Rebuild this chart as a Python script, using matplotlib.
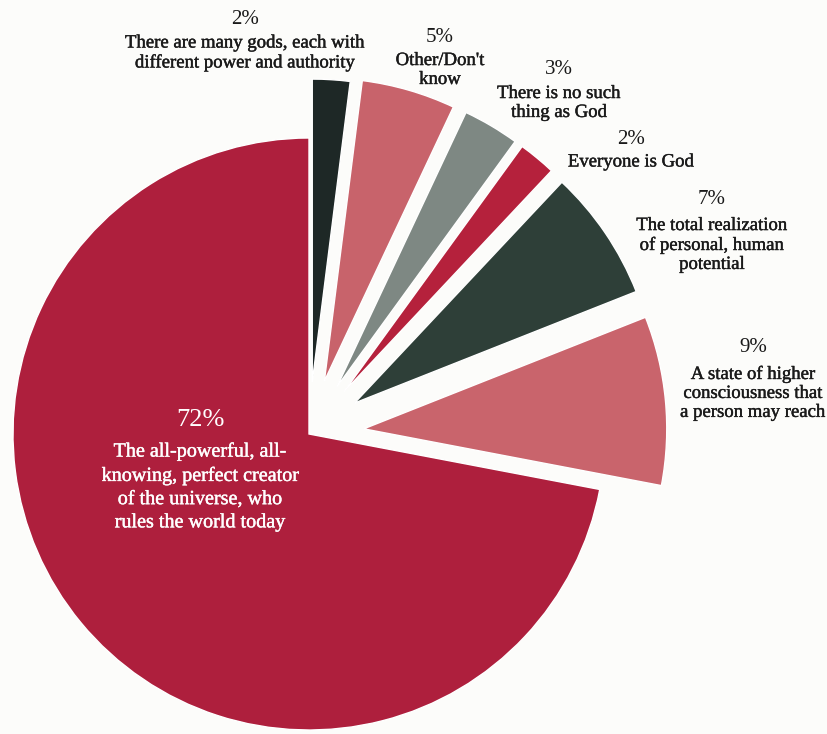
import matplotlib.pyplot as plt
import matplotlib.patheffects as pe

# survey answers: what is God?
pcts = [2, 5, 3, 2, 7, 9, 72]
pct_labels = ["2%", "5%", "3%", "2%", "7%", "9%", "72%"]
descs = [
    "There are many gods, each with\ndifferent power and authority",
    "Other/Don't\nknow",
    "There is no such\nthing as God",
    "Everyone is God",
    "The total realization\nof personal, human\npotential",
    "A state of higher\nconsciousness that\na person may reach",
    "The all-powerful, all-\nknowing, perfect creator\nof the universe, who\nrules the world today",
]

colors = ["#1e2826", "#c8636b", "#7e8883", "#b5213c", "#2e3f38", "#c9646c", "#ae1f3d"]
explode = [52, 55, 55, 55, 55, 55, 0]   # in pixels, axes are pixel units

W, H = 828, 734
fig = plt.figure(figsize=(W / 100, H / 100), dpi=100)
fig.patch.set_facecolor("#fcfcfa")
ax = fig.add_axes([0, 0, 1, 1])

# pie centre / radius in pixel coords (y up)
cx, cy, r = 309, H - 434, 296
wedges, _ = ax.pie(pcts, colors=colors, explode=explode, startangle=90, counterclock=False,
                   center=(cx, cy), radius=r,
                   wedgeprops=dict(edgecolor="white", linewidth=1))
# the pulled-out slices are drawn a little bigger than the main one
for w in wedges[:-1]:
    w.set_radius(303)
ax.set_xlim(0, W)
ax.set_ylim(0, H)
ax.set_aspect("equal")
ax.axis("off")

font = "Liberation Serif"

# label positions (image pixels, text centres)
pct_pos = [(245, 20), (440, 37), (559, 70), (631, 140), (712, 200), (753, 348), (200, 420)]
desc_pos = [(245, 53), (440, 70), (559, 103), (631, 162), (712, 245), (753, 393), (200, 487)]

for i in range(len(pcts)):
    main = i == len(pcts) - 1
    col = "white" if main else "#1a1a1a"
    fx = [pe.withStroke(linewidth=0.3, foreground=col)]
    px, py = pct_pos[i]
    ax.text(px, H - py, pct_labels[i], ha="center", va="center",
            fontsize=19 if main else 15, family=font, color=col)
    dx, dy = desc_pos[i]
    ax.text(dx, H - dy, descs[i], ha="center", va="center", multialignment="center",
            fontsize=14.5 if main else 13.5, family=font, color=col,
            linespacing=1.3 if main else 1.15, path_effects=fx)

plt.savefig("out.png", dpi=100, facecolor=fig.get_facecolor())
